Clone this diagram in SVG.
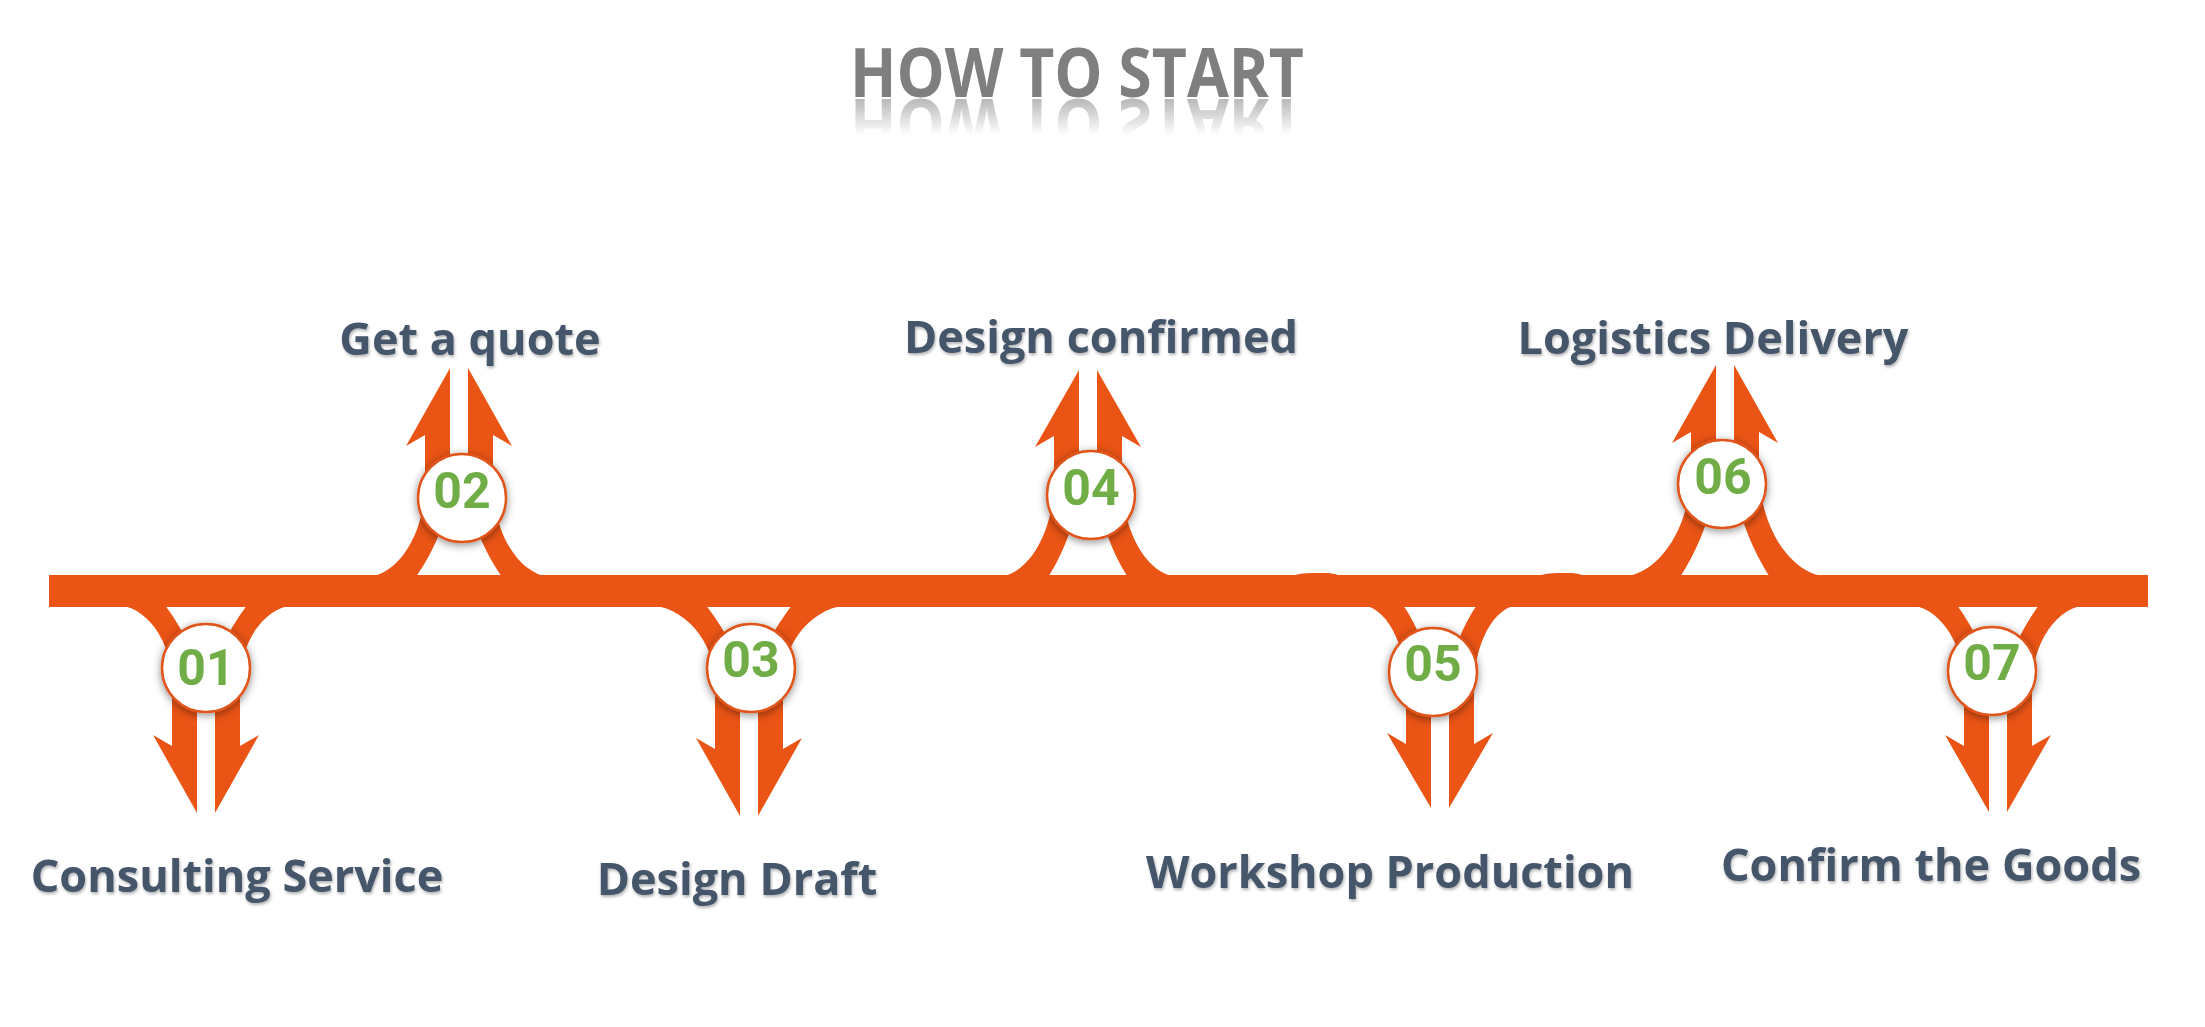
<svg xmlns="http://www.w3.org/2000/svg" width="2205" height="1027" viewBox="0 0 2205 1027">
<style>
.arw{fill:#EA5415}
.bub{fill:#FFFFFF;stroke:#E0541A;stroke-width:2.5;filter:url(#csh)}
.num{font-family:Roboto,"Liberation Sans",sans-serif;font-weight:700;font-size:50px;fill:#70AD47;text-anchor:middle}
.lbl{font-family:"Open Sans","Liberation Sans",sans-serif;font-weight:700;font-size:45px;fill:#44546A;text-anchor:middle;filter:url(#tsh)}
.ttl{font-family:"Open Sans","Liberation Sans",sans-serif;font-weight:700;font-size:68px;fill:#7F7F7F;text-anchor:middle}
</style>
<defs>
<filter id="csh" x="-30%" y="-30%" width="160%" height="160%">
<feDropShadow dx="0" dy="2" stdDeviation="4" flood-color="#000" flood-opacity="0.45"/>
</filter>
<filter id="tsh" x="-5%" y="-20%" width="110%" height="150%">
<feDropShadow dx="1" dy="2" stdDeviation="1.5" flood-color="#000" flood-opacity="0.3"/>
</filter>
<linearGradient id="fadeG" gradientUnits="userSpaceOnUse" x1="0" y1="99" x2="0" y2="135">
<stop offset="0" stop-color="#fff" stop-opacity="0.55"/>
<stop offset="1" stop-color="#fff" stop-opacity="0"/>
</linearGradient>
<mask id="fade" maskUnits="userSpaceOnUse" x="0" y="95" width="2205" height="60">
<rect x="0" y="95" width="2205" height="60" fill="url(#fadeG)"/>
</mask>
</defs>
<rect width="2205" height="1027" fill="#FFFFFF"/>
<g id="title">
<text class="ttl" x="1077" y="97" textLength="454" lengthAdjust="spacingAndGlyphs">HOW TO START</text>
<g mask="url(#fade)"><text class="ttl" x="1077" y="97" textLength="454" lengthAdjust="spacingAndGlyphs" transform="matrix(1,0,0,-1,0,196)">HOW TO START</text></g>
</g>
<g id="connectors">
<rect class="arw" x="49" y="575" width="2099" height="32"/>
<path class="arw" d="M1292,576 Q1300,573 1312,573 L1328,573 Q1336,573.5 1340,576 Z"/>
<path class="arw" d="M1538,576 Q1546,573 1558,573 L1572,573 Q1580,573.5 1584,576 Z"/>
</g>
<g id="node01">
<path class="arw" d="M115,605 C146.4,605 172,641.2 172,683 L172,746 L153,735 L197,813 L197,683 C197,648.8 174,618 165,605 Z"/>
<path class="arw" d="M297,605 C265.6,605 240,641.2 240,683 L240,746 L259,735 L215,813 L215,683 C215,648.8 238,618 247,605 Z"/>
<circle class="bub" cx="206" cy="668" r="44"/>
<text class="num" x="206" y="685">01</text>
<text class="lbl" x="237" y="892">Consulting Service</text>
</g>
<g id="node02">
<path class="arw" d="M365,577 C398,577 425,533.6 425,483 L425,435 L406,446 L450,368 L450,483 C450,524.4 425,564 416,577 Z"/>
<path class="arw" d="M553,577 C520,577 493,533.6 493,483 L493,435 L512,446 L468,368 L468,483 C468,524.4 493,564 502,577 Z"/>
<circle class="bub" cx="462" cy="498" r="44"/>
<text class="num" x="462" y="508">02</text>
<text class="lbl" x="470" y="355">Get a quote</text>
</g>
<g id="node03">
<path class="arw" d="M646,605 C684,605 715,641.2 715,683 L715,749 L696,738 L740,816 L740,683 C740,648.8 715,618 706,605 Z"/>
<path class="arw" d="M852,605 C814,605 783,641.2 783,683 L783,749 L802,738 L758,816 L758,683 C758,648.8 783,618 792,605 Z"/>
<circle class="bub" cx="751" cy="668" r="44"/>
<text class="num" x="751" y="677">03</text>
<text class="lbl" x="737" y="895">Design Draft</text>
</g>
<g id="node04">
<path class="arw" d="M996,577 C1027.9,577 1054,532.3 1054,480 L1054,436 L1035,447 L1079,370 L1079,480 C1079,522.8 1057,564 1048,577 Z"/>
<path class="arw" d="M1180,577 C1148.1,577 1122,532.3 1122,480 L1122,436 L1141,447 L1097,370 L1097,480 C1097,522.8 1119,564 1128,577 Z"/>
<circle class="bub" cx="1091" cy="495" r="44"/>
<text class="num" x="1091" y="505">04</text>
<text class="lbl" x="1101" y="353">Design confirmed</text>
</g>
<g id="node05">
<path class="arw" d="M1360,605 C1385.3,605 1406,643 1406,687 L1406,744 L1387,733 L1431,808 L1431,687 C1431,651 1412,618 1403,605 Z"/>
<path class="arw" d="M1520,605 C1494.7,605 1474,643 1474,687 L1474,744 L1493,733 L1449,808 L1449,687 C1449,651 1468,618 1477,605 Z"/>
<circle class="bub" cx="1433" cy="672" r="44"/>
<text class="num" x="1433" y="681">05</text>
<text class="lbl" x="1390" y="888">Workshop Production</text>
</g>
<g id="node06">
<path class="arw" d="M1619,577 C1658.6,577 1691,527.3 1691,469 L1691,432 L1672,443 L1716,365 L1716,469 C1716,516.7 1689,564 1680,577 Z"/>
<path class="arw" d="M1831,577 C1791.4,577 1759,527.3 1759,469 L1759,432 L1778,443 L1734,365 L1734,469 C1734,516.7 1761,564 1770,577 Z"/>
<circle class="bub" cx="1722" cy="484" r="44"/>
<text class="num" x="1723" y="494">06</text>
<text class="lbl" x="1713" y="354">Logistics Delivery</text>
</g>
<g id="node07">
<path class="arw" d="M1907,605 C1938.4,605 1964,642.5 1964,686 L1964,746 L1945,735 L1989,812 L1989,686 C1989,650.4 1966,618 1957,605 Z"/>
<path class="arw" d="M2089,605 C2057.6,605 2032,642.5 2032,686 L2032,746 L2051,735 L2007,812 L2007,686 C2007,650.4 2030,618 2039,605 Z"/>
<circle class="bub" cx="1992" cy="671" r="44"/>
<text class="num" x="1992" y="680">07</text>
<text class="lbl" x="1931" y="881">Confirm the Goods</text>
</g>
</svg>
